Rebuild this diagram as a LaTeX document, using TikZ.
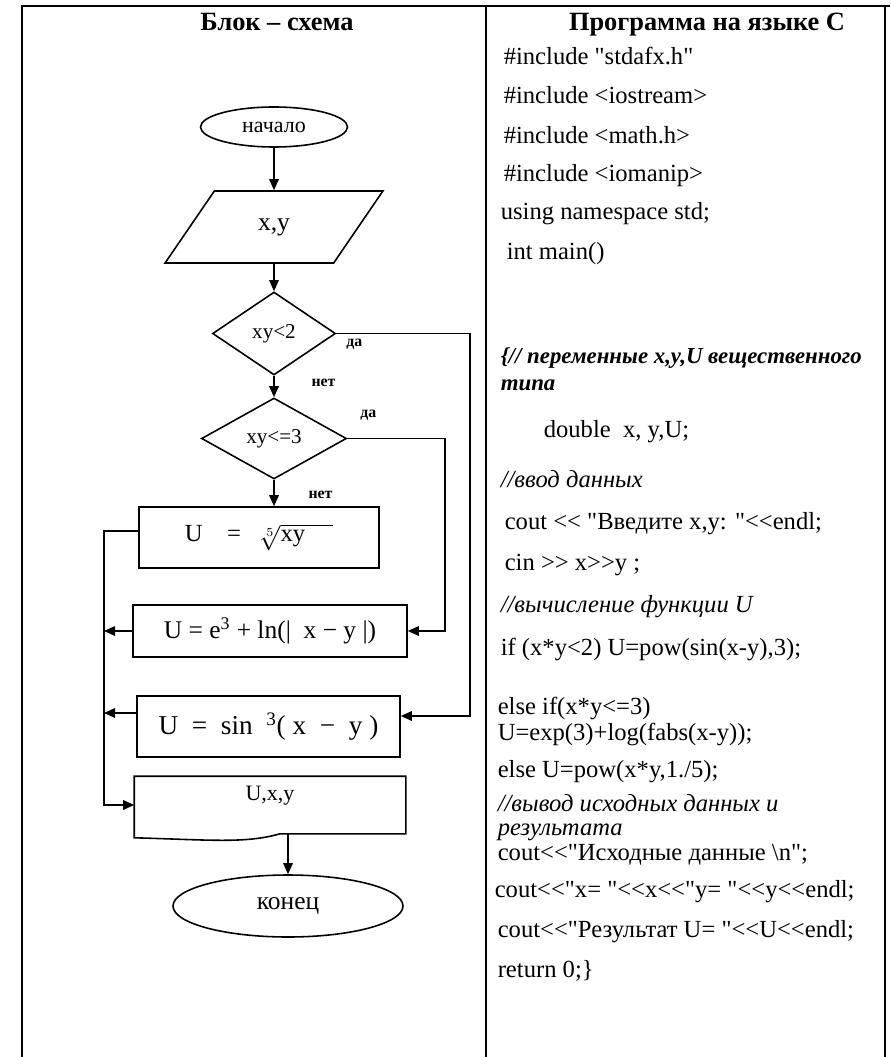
\documentclass[tikz,border=0pt]{standalone}
\usepackage{fontspec}
\setmainfont{Liberation Serif}
\newfontfamily\codefont{Liberation Serif}
\usetikzlibrary{positioning, arrows.meta, calc, shapes.geometric}

\begin{document}
\begin{tikzpicture}[
    >={Triangle[length=2.2mm, width=1.9mm]},
    line width=0.9pt,
    term/.style={draw, ellipse, inner sep=0pt},
    io/.style={draw, trapezium, trapezium left angle=52.6, trapezium right angle=127.4,
               trapezium stretches=true, inner sep=0pt},
    cond/.style={draw, diamond, inner sep=0pt, font=\fontsize{12}{14}\selectfont},
    proc/.style={draw, rectangle, inner sep=0pt},
    lbl/.style={inner sep=1pt, font=\bfseries\fontsize{9}{10}\selectfont},
    flow/.style={->},
    head/.style={anchor=base, inner sep=0pt, font=\bfseries\fontsize{15}{18}\selectfont},
    code/.style={anchor=base west, inner sep=0pt, font=\codefont\fontsize{14}{16}\selectfont},
    cmt/.style={code, font=\codefont\itshape\fontsize{14}{16}\selectfont}
]
\useasboundingbox (0,0) rectangle (17.8,-21.14);

% table frame
\draw (0.44,-21.14) -- (0.44,-0.12) -- (17.8,-0.12);
\draw (17.7,-0.12) -- (17.7,-21.14);
\draw (9.72,-0.12) -- (9.72,-21.14);

\node[head] (hflow) at (5.54,-0.62) {Блок – схема};
\node[head] (hcode) at (14.14,-0.62) {Программа на языке C};

% flowchart
\node[term, minimum width=2.94cm, minimum height=0.8cm, font=\fontsize{12.5}{14}\selectfont]
    (start) at (5.48,-2.54) {начало};
\node[io, minimum width=4.36cm, minimum height=1.44cm, font=\fontsize{14.5}{16}\selectfont]
    (in) at (5.48,-4.54) {x,y};
\node[cond, minimum width=2.46cm, minimum height=1.66cm] (c1) at (5.48,-6.67) {xy<2};
\node[cond, minimum width=2.9cm, minimum height=1.62cm] (c2) at (5.48,-8.77) {xy<=3};
\node[proc, minimum width=4.8cm, minimum height=1.22cm, font=\fontsize{14}{16}\selectfont]
    (u1) at (5.18,-10.75) {U~~~~=~~~$\sqrt[5]{\mbox{xy}\;\;\;\;}$};
\node[proc, minimum width=5.48cm, minimum height=1.04cm, font=\fontsize{14.5}{16}\selectfont]
    (u2) at (5.4,-12.62) {U = e\textsuperscript{3} + ln(|~~x − y~|)};
\node[proc, minimum width=5.26cm, minimum height=1.22cm, font=\fontsize{15.5}{18}\selectfont]
    (u3) at (5.37,-14.53) {U~ = ~sin~~\textsuperscript{3}(~x~ − ~y~)};
\node[minimum width=5.4cm, minimum height=1.12cm, inner sep=0pt, text depth=0.45cm,
      font=\fontsize{12.5}{14}\selectfont] (out) at (5.4,-16.1) {U,x,y};
\draw (out.north west) -- (out.north east) -- (out.south east) -- ($(out.south)+(0.2,0)$)
    .. controls ($(out.south)+(-0.5,-0.2)$) and ($(out.south west)+(1.5,-0.12)$)
    .. ($(out.south west)+(0,-0.08)$) -- cycle;
\node[term, minimum width=4.6cm, minimum height=1.24cm, font=\fontsize{14.5}{16}\selectfont]
    (end) at (5.76,-18.12) {конец};

\draw[flow] (start) -- (in);
\draw[flow] (in) -- (c1);
\draw[flow] (c1) -- (c2);
\draw[flow] (c2.south) -- (c2.south |- u1.north);
\draw[flow] (out.south -| end.north) -- (end.north);

% branches
\coordinate (busL) at (2.08,-10.62);
\coordinate (busY) at (9.4,-6.67);
\coordinate (busN) at (8.9,-8.77);
\draw[flow] ([yshift=0.13cm]u1.west) -- ([yshift=0.13cm]u1.west -| busL) |- (out.west);
\draw[flow] (u2.west) -- (u2.west -| busL);
\draw[flow] ([yshift=0.27cm]u3.west) -- ([yshift=0.27cm]u3.west -| busL);
\draw[flow] (c1.east) -- (c1.east -| busY) |- ([yshift=0.21cm]u3.east);
\draw[flow] (c2.east) -- (c2.east -| busN) |- (u2.east);

\node[lbl, below right=0.07cm and 0.15cm of c1.east] (yes1) {да};
\node[lbl, below right=0.02cm and 0.7cm of c1.south] (no1) {нет};
\node[lbl, above right=0.31cm and 0.21cm of c2.east] (yes2) {да};
\node[lbl, below right=0.17cm and 0.64cm of c2.south] (no2) {нет};

% program text
\node[code] (l1)  at (10.06,-1.30)  {\#include "stdafx.h"};
\node[code] (l2)  at (10.06,-2.08)  {\#include <iostream>};
\node[code] (l3)  at (10.06,-2.88)  {\#include <math.h>};
\node[code] (l4)  at (10.06,-3.64)  {\#include <iomanip>};
\node[code] (l5)  at (10.0,-4.40)   {using namespace std;};
\node[code] (l6)  at (10.12,-5.20)  {int main()};
\node[cmt, font=\codefont\bfseries\itshape\fontsize{13}{15}\selectfont]
      (l7)  at (10.0,-7.26)   {\{// переменные x,y,U вещественного};
\node[cmt, font=\codefont\bfseries\itshape\fontsize{13}{15}\selectfont]
      (l8)  at (10.0,-7.80)   {типа};
\node[code] (l9)  at (10.86,-8.74)  {double~ x, y,U;};
\node[cmt]  (l10) at (10.0,-9.74)   {//ввод данных};
\node[code] (l11) at (10.08,-10.58) {cout << "Введите x,y: "<<endl;};
\node[code] (l12) at (10.08,-11.40) {cin >> x>>y ;};
\node[cmt]  (l13) at (10.0,-12.24)  {//вычисление функции U};
\node[code] (l14) at (10.0,-13.10)  {if (x*y<2) U=pow(sin(x-y),3);};
\node[code] (l15) at (9.94,-14.28)  {else if(x*y<=3)};
\node[code] (l16) at (9.94,-14.80)  {U=exp(3)+log(fabs(x-y));};
\node[code] (l17) at (9.94,-15.54)  {else U=pow(x*y,1./5);};
\node[cmt]  (l18) at (9.94,-16.22)  {//вывод исходных данных и};
\node[cmt]  (l19) at (9.94,-16.70)  {результата};
\node[code] (l20) at (9.94,-17.20)  {cout<<"Исходные данные \textbackslash n";};
\node[code] (l21) at (9.88,-17.94)  {cout<<"x= "<<x<<"y= "<<y<<endl;};
\node[code] (l22) at (9.94,-18.74)  {cout<<"Результат U= "<<U<<endl;};
\node[code] (l23) at (9.94,-19.54)  {return 0;\}};
\end{tikzpicture}
\end{document}
